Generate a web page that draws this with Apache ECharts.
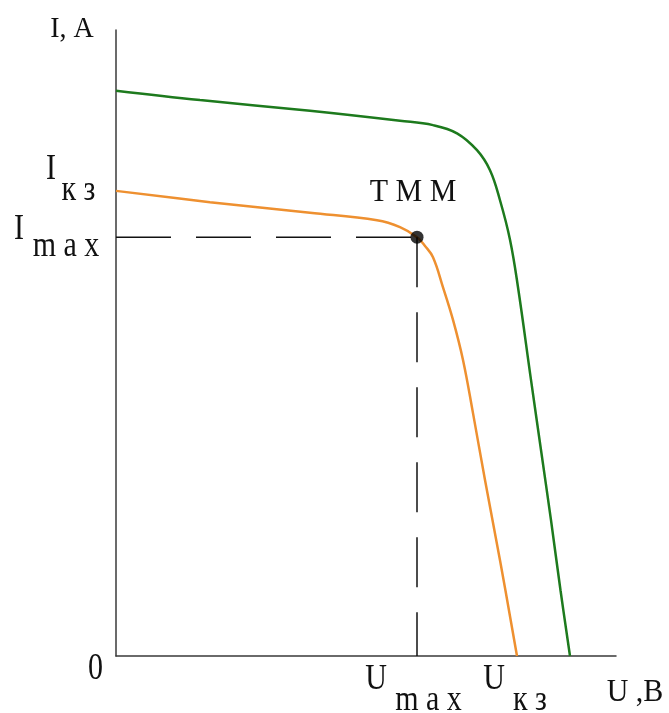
<!DOCTYPE html>
<html>
<head>
<meta charset="utf-8">
<script src="https://cdn.jsdelivr.net/npm/echarts@6/dist/echarts.min.js"></script>
<style>
  html, body { margin: 0; padding: 0; background: #fff; }
  #chart { width: 669px; height: 713px; }
</style>
</head>
<body>
<div id="chart"></div>
<script>
// Current–voltage characteristic of a solar cell (arbitrary units, 0..100)
// Upper curve (higher irradiance)
const greenU = [0, 16.8, 38.8, 56.8, 63.4, 68.2, 72.2, 74.8, 76.8, 78.8, 80.4, 83.0, 85.0, 87.0, 88.9, 90.8];
const greenI = [90.3, 88.8, 87.1, 85.5, 84.8, 83.5, 80.8, 77.6, 72.8, 66.5, 58.9, 44.1, 32.9, 21.7, 10.5, 0];

// Lower curve with the maximum power point
const orangeU = [0, 18.8, 38.8, 52.2, 56.8, 60.2, 61.8, 63.4, 65.4, 67.4, 69.4, 71.4, 73.8, 76.8, 80.2];
const orangeI = [74.3, 72.5, 70.8, 69.6, 68.5, 66.9, 65.5, 63.7, 58.9, 53.7, 47.3, 38.8, 28.1, 15.3, 0];

// Characteristic points of the lower curve
const Ikz = 74.3;   // short-circuit current
const Imax = 66.9;  // current at the maximum power point
const Umax = 60.2;  // voltage at the maximum power point
const Ukz = 80.2;   // open-circuit voltage

const axisMax = 100;

const pairs = (xs, ys) => xs.map((x, i) => [x, ys[i]]);

const chart = echarts.init(document.getElementById('chart'), null, { renderer: 'canvas' });

const axisBase = {
  type: 'value',
  min: 0,
  max: axisMax,
  axisLine: { show: true, lineStyle: { color: '#3a3a3a', width: 1.5 } },
  axisTick: { show: false },
  axisLabel: { show: false },
  splitLine: { show: false }
};

chart.setOption({
  animation: false,
  backgroundColor: '#ffffff',
  grid: { left: 116, top: 30, width: 500, height: 626, containLabel: false },
  xAxis: Object.assign({}, axisBase),
  yAxis: Object.assign({}, axisBase),
  series: [
    {
      type: 'line',
      data: pairs(greenU, greenI),
      smooth: 0.4,
      symbol: 'none',
      lineStyle: { color: '#1d7a1d', width: 2.5 },
      z: 3
    },
    {
      type: 'line',
      data: pairs(orangeU, orangeI),
      smooth: 0.4,
      symbol: 'none',
      lineStyle: { color: '#ee9030', width: 2.5 },
      z: 3
    },
    {
      type: 'line',
      data: [[0, Imax], [Umax, Imax]],
      symbol: 'none',
      lineStyle: { color: '#111', width: 1.5, type: [55, 25] },
      z: 4
    },
    {
      type: 'line',
      data: [[Umax, Imax], [Umax, 0]],
      symbol: 'none',
      lineStyle: { color: '#111', width: 1.5, type: [50, 25] },
      z: 4
    },
    {
      type: 'scatter',
      data: [[Umax, Imax]],
      symbol: 'circle',
      symbolSize: 13,
      itemStyle: { color: '#000' },
      z: 5
    }
  ]
});

// Text annotations placed relative to axis points
const P = (x, y) => chart.convertToPixel({ gridIndex: 0 }, [x, y]);
const FONT = '"Liberation Serif", "Times New Roman", serif';

function label(text, anchor, dx, dy, size, sy) {
  return {
    type: 'text',
    x: anchor[0] + dx,
    y: anchor[1] + dy,
    scaleY: sy,
    originX: 0,
    originY: 0,
    z: 10,
    style: {
      text: text,
      fontFamily: FONT,
      fontSize: size,
      fill: '#111',
      textAlign: 'center',
      verticalAlign: 'middle'
    }
  };
}

const origin = P(0, 0);
const yTop = P(0, axisMax);
const xEnd = P(axisMax, 0);
const pIkz = P(0, Ikz);
const pImax = P(0, Imax);
const pUmax = P(Umax, 0);
const pUkz = P(Ukz, 0);
const pMpp = P(Umax, Imax);

chart.setOption({
  graphic: [
    label('I, A', yTop, -44, -0.5, 28, 1.05),
    label('0', origin, -20.5, 13.5, 30, 1.25),
    label('U ,B', xEnd, 19, 36.5, 30, 1.05),
    label('Т М М', pMpp, -4, -44.5, 30, 1.05),
    label('I', pIkz, -65, -21, 30, 1.2),
    label('к з', pIkz, -37.5, 0, 30, 1.2),
    label('I', pImax, -97, -8, 30, 1.2),
    label('m a x', pImax, -50, 9, 30, 1.2),
    label('U', pUmax, -41, 24, 30, 1.2),
    label('m a x', pUmax, 11.5, 45, 30, 1.2),
    label('U', pUkz, -23, 24, 30, 1.2),
    label('к з', pUkz, 13, 45, 30, 1.2)
  ]
});
</script>
</body>
</html>
